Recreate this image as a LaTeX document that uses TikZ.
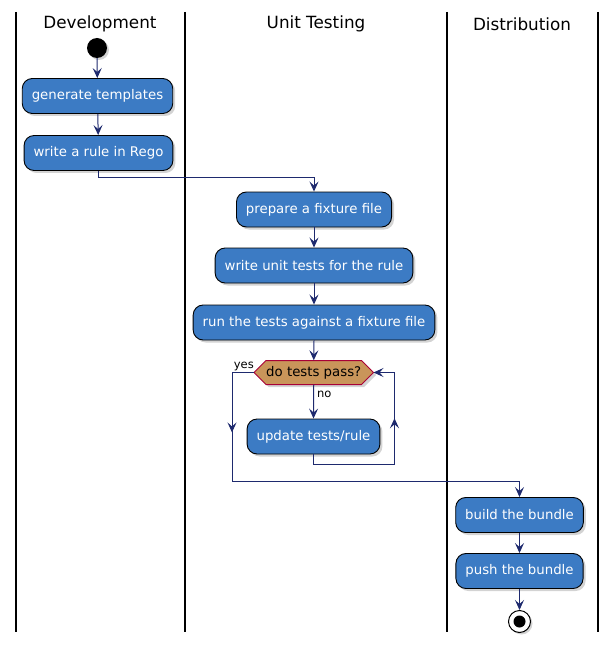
\documentclass[tikz,border=0pt]{standalone}
\usepackage{fontspec}
\setmainfont{DejaVu Sans}
\usetikzlibrary{arrows.meta,shadows,calc,backgrounds}
\definecolor{boxblue}{HTML}{3C7BC4}
\definecolor{edgenavy}{HTML}{1E2A6E}
\definecolor{dectan}{HTML}{C9955A}
\definecolor{decred}{HTML}{A80036}
\tikzset{
  lane/.style={line width=1.3pt, black},
  lanehead/.style={font=\fontsize{16.8}{18}\selectfont, text=black},
  actbox/.style={rounded corners=10pt, draw=black, line width=0.9pt, fill=boxblue,
    text=white, font=\fontsize{13.3}{15}\selectfont, minimum height=35pt, inner xsep=9.5pt,
    drop shadow={opacity=0.35, shadow xshift=2.5pt, shadow yshift=-2.5pt}},
  flow/.style={draw=edgenavy, line width=1pt, -{Stealth[length=10pt,width=9pt,inset=4pt]}},
  lbl/.style={font=\fontsize{11.5}{13}\selectfont, text=black, inner sep=1pt},
  dectext/.style={font=\fontsize{13.3}{15}\selectfont, text=black, inner sep=0pt, minimum height=24pt, minimum width=95pt},
}
\begin{document}
\begin{tikzpicture}[x=1pt,y=-1pt]
\useasboundingbox (0,0) rectangle (615,647);
% lanes
\draw[lane] (16,12) -- (16,632);
\draw[lane] (185,12) -- (185,632);
\draw[lane] (447,12) -- (447,632);
\draw[lane] (598,12) -- (598,632);
\node[lanehead] (h1) at (100,24) {Development};
\node[lanehead] (h2) at (316,24) {Unit Testing};
\node[lanehead] (h3) at (522,24) {Distribution};
% start
\node[circle, fill=black, minimum size=20pt, inner sep=0pt,
  drop shadow={opacity=0.35, shadow xshift=2pt, shadow yshift=-2pt}] (start) at (97,48) {};
\node[actbox] (gen) at (97.5,96) {generate templates};
\node[actbox] (rego) at (98.5,153) {write a rule in Rego};
\node[actbox] (prep) at (314,209.5) {prepare a fixture file};
\node[actbox] (wut) at (314,265.5) {write unit tests for the rule};
\node[actbox] (run) at (314,322.5) {run the tests against a fixture file};
% decision hexagon
\coordinate (dw) at (254,372.5);
\coordinate (de) at (373.5,372.5);
\draw[fill=dectan, draw=decred, line width=1pt,
  drop shadow={opacity=0.35, shadow xshift=2.5pt, shadow yshift=-2.5pt}]
  (dw) -- (266,360.5) -- (361.5,360.5) -- (de) -- (361.5,384.5) -- (266,384.5) -- cycle;
\node[dectext] (dec) at (313.75,372.5) {do tests pass?};
\node[actbox] (upd) at (313.5,436.5) {update tests/rule};
\node[actbox] (build) at (519.5,515) {build the bundle};
\node[actbox] (push) at (519.5,571) {push the bundle};
% end
\node[circle, draw=black, line width=1pt, fill=white, minimum size=22pt, inner sep=0pt,
  drop shadow={opacity=0.35, shadow xshift=2pt, shadow yshift=-2pt}] (end) at (519.5,621.5) {};
\fill[black] (end.center) circle (6pt);
% edges
\draw[flow] (start) -- (gen);
\draw[flow] (gen) -- (rego);
\coordinate (j1) at (314,177);
\draw[flow] (rego.south) |- (j1) -- (prep.north);
\draw[flow] (prep) -- (wut);
\draw[flow] (wut) -- (run);
\draw[flow] (run.south) -- (dec.north);
\draw[flow] (dec.south) -- node[lbl, pos=0.3, right, xshift=2pt] (nolbl) {no} (upd.north);
% loop back
\coordinate (l1) at (394.5,464);
\coordinate (l2) at (394.5,372.5);
\draw[flow] (upd.south) |- (l1) -- (l2) -- (de);
\draw[flow] (l1) -- ($(l1)!0.5!(l2)$);
% yes branch
\coordinate (y1) at (232,372.5);
\coordinate (y2) at (232,481.5);
\coordinate (y3) at (519.5,481.5);
\draw[flow] (dw) -- (y1) -- (y2) -- (y3) -- (build.north);
\draw[flow] (y1) -- ($(y1)!0.55!(y2)$);
\node[lbl, anchor=south east] (yeslbl) at ($(dw)+(1,-0.5)$) {yes};
\draw[flow] (build) -- (push);
\draw[flow] (push) -- (end);
\end{tikzpicture}
\end{document}
